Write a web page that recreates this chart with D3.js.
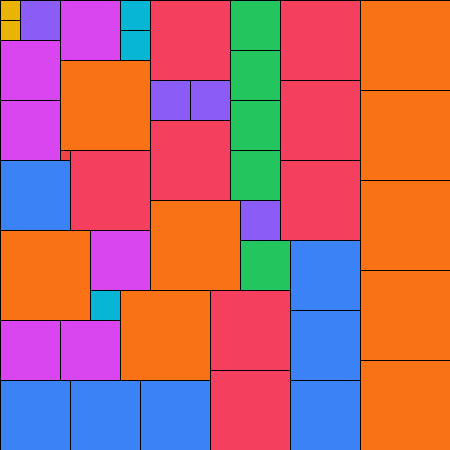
<!DOCTYPE html>
<html lang="en">
<head>
    <meta charset="UTF-8">
    <title>Squares</title>
    <script src="https://cdn.jsdelivr.net/npm/d3@7"></script>
    <style>
        body { margin: 0; background: #fff; }
    </style>
</head>
<body>
<script>
    // 45x45 grid, one square of side 1, two of side 2 ... nine of side 9
    var sizes = [2, 2, 4, 6, 3, 3, 6, 6, 9, 1, 8, 7, 9, 6, 3, 6, 6, 9, 7, 7, 7, 8, 8,
                 8, 4, 4, 8, 5, 5, 5, 5, 8, 8, 8, 9, 9, 9, 9, 9, 9, 4, 5, 7, 7, 7];
    var cols  = [0, 0, 2, 6, 12, 12, 0, 0, 6, 6, 7, 0, 0, 9, 9, 0, 6, 12, 0, 7, 14, 21, 21,
                 15, 15, 19, 15, 23, 23, 23, 23, 28, 28, 28, 36, 36, 36, 36, 36, 15, 24, 24, 29, 29, 29];
    var rows  = [0, 2, 0, 0, 0, 3, 4, 10, 6, 15, 15, 16, 23, 23, 29, 32, 32, 29, 38, 38, 38, 29, 37,
                 0, 8, 8, 12, 0, 5, 10, 15, 0, 8, 16, 0, 9, 18, 27, 36, 20, 20, 24, 24, 31, 38];
    var sideValues = [1, 2, 3, 4, 5, 6, 7, 8, 9];
    var colors = ["#ef4444", "#eab308", "#06b6d4", "#8b5cf6", "#22c55e",
                  "#d946ef", "#3b82f6", "#f43f5e", "#f97316"];

    var width = 450, height = 450;

    var data = sizes.map(function (s, i) {
        return { size: s, col: cols[i], row: rows[i] };
    });

    var x = d3.scaleLinear().domain([0, 45]).range([0, width]);
    var y = d3.scaleLinear().domain([0, 45]).range([0, height]);
    var color = d3.scaleOrdinal().domain(sideValues).range(colors);

    var svg = d3.select("body")
        .append("svg")
        .attr("width", width)
        .attr("height", height)
        .style("display", "block");

    svg.selectAll("rect")
        .data(data)
        .enter()
        .append("rect")
        .attr("x", function (d) { return x(d.col); })
        .attr("y", function (d) { return y(d.row); })
        .attr("width", function (d) { return x(d.size) - x(0); })
        .attr("height", function (d) { return y(d.size) - y(0); })
        .attr("fill", function (d) { return color(d.size); })
        .attr("stroke", "#000")
        .attr("stroke-width", 1)
        .attr("shape-rendering", "crispEdges");
</script>
</body>
</html>
